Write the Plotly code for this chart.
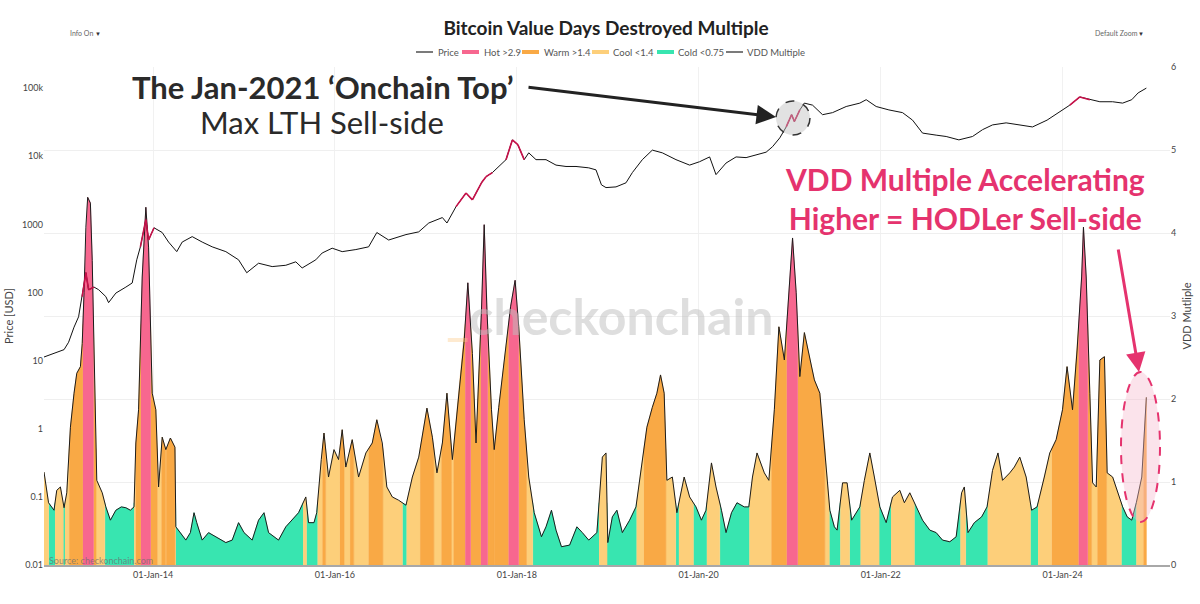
import numpy as np
import pandas as pd
import plotly.graph_objects as go

# ---------------- data ----------------
vdd_year = [2012.80, 2012.85, 2012.91, 2012.94, 2012.98, 2013.02, 2013.05, 2013.09, 2013.13, 2013.16,
            2013.20, 2013.22, 2013.24, 2013.26, 2013.28, 2013.31, 2013.33, 2013.35, 2013.38, 2013.44,
            2013.48, 2013.53, 2013.59, 2013.65, 2013.70, 2013.75, 2013.79, 2013.81, 2013.84, 2013.88,
            2013.92, 2013.95, 2013.99, 2014.03, 2014.06, 2014.10, 2014.14, 2014.19, 2014.24, 2014.25,
            2014.30, 2014.36, 2014.41, 2014.45, 2014.48, 2014.54, 2014.61, 2014.69, 2014.80, 2014.87,
            2014.94, 2015.00, 2015.09, 2015.16, 2015.22, 2015.27, 2015.38, 2015.46, 2015.53, 2015.60,
            2015.68, 2015.71, 2015.77, 2015.80, 2015.85, 2015.88, 2015.93, 2015.99, 2016.04, 2016.08,
            2016.12, 2016.19, 2016.26, 2016.34, 2016.41, 2016.46, 2016.52, 2016.57, 2016.63, 2016.70,
            2016.78, 2016.85, 2016.92, 2017.01, 2017.07, 2017.12, 2017.18, 2017.23, 2017.29, 2017.36,
            2017.42, 2017.46, 2017.51, 2017.55, 2017.61, 2017.64, 2017.67, 2017.72, 2017.75, 2017.80,
            2017.88, 2017.93, 2017.98, 2018.02, 2018.08, 2018.13, 2018.19, 2018.27, 2018.32, 2018.38,
            2018.43, 2018.49, 2018.58, 2018.66, 2018.72, 2018.79, 2018.88, 2018.94, 2018.98, 2019.00,
            2019.05, 2019.10, 2019.16, 2019.24, 2019.31, 2019.38, 2019.43, 2019.49, 2019.54, 2019.58,
            2019.62, 2019.65, 2019.71, 2019.76, 2019.84, 2019.90, 2019.97, 2020.03, 2020.08, 2020.14,
            2020.19, 2020.25, 2020.30, 2020.36, 2020.42, 2020.50, 2020.55, 2020.59, 2020.64, 2020.72,
            2020.77, 2020.83, 2020.88, 2020.94, 2020.99, 2021.03, 2021.07, 2021.11, 2021.16, 2021.22,
            2021.27, 2021.33, 2021.38, 2021.44, 2021.49, 2021.52, 2021.58, 2021.63, 2021.68, 2021.77,
            2021.82, 2021.88, 2021.93, 2021.99, 2022.06, 2022.13, 2022.21, 2022.26, 2022.32, 2022.39,
            2022.46, 2022.54, 2022.61, 2022.68, 2022.76, 2022.83, 2022.89, 2022.92, 2022.96, 2023.03,
            2023.11, 2023.17, 2023.23, 2023.29, 2023.34, 2023.42, 2023.47, 2023.53, 2023.60, 2023.66,
            2023.72, 2023.80, 2023.86, 2023.93, 2024.00, 2024.05, 2024.11, 2024.16, 2024.21, 2024.23,
            2024.26, 2024.30, 2024.33, 2024.37, 2024.41, 2024.46, 2024.49, 2024.55, 2024.60, 2024.66,
            2024.71, 2024.76, 2024.81, 2024.87, 2024.92]

vdd_multiple = [1.12, 0.75, 0.66, 0.90, 0.94, 0.69, 0.87, 1.66, 2.07, 2.31,
                2.39, 2.67, 3.28, 4.07, 4.43, 4.36, 3.67, 2.47, 1.02, 0.87,
                0.70, 0.54, 0.66, 0.70, 0.69, 0.66, 0.70, 1.47, 1.87, 3.47,
                4.31, 3.83, 2.07, 1.87, 0.94, 1.54, 1.39, 1.53, 1.42, 0.46,
                0.39, 0.30, 0.39, 0.63, 0.51, 0.30, 0.39, 0.34, 0.27, 0.30,
                0.51, 0.39, 0.30, 0.54, 0.63, 0.39, 0.30, 0.46, 0.54, 0.63,
                0.82, 0.51, 0.51, 0.63, 1.27, 1.59, 1.06, 1.39, 1.27, 1.63,
                1.18, 1.51, 1.06, 1.35, 1.47, 1.75, 1.47, 0.94, 0.82, 0.78,
                0.72, 1.06, 1.30, 1.89, 1.54, 1.11, 1.47, 2.07, 1.27, 2.07,
                2.71, 3.40, 2.55, 1.47, 3.07, 4.10, 3.07, 1.87, 1.39, 1.90,
                2.63, 3.11, 3.43, 2.87, 1.75, 1.06, 0.63, 0.34, 0.46, 0.66,
                0.42, 0.22, 0.24, 0.46, 0.39, 0.30, 0.39, 1.30, 1.35, 0.27,
                0.58, 0.66, 0.39, 0.54, 0.70, 1.27, 1.66, 1.90, 2.07, 2.29,
                2.07, 1.02, 1.06, 0.63, 1.06, 0.82, 0.70, 0.54, 0.66, 1.23,
                0.94, 0.66, 0.39, 0.63, 0.75, 0.70, 0.70, 1.06, 1.35, 1.11,
                1.02, 1.87, 2.87, 2.47, 3.28, 3.94, 3.28, 2.27, 2.80, 2.47,
                2.23, 2.07, 1.47, 0.66, 0.46, 0.42, 0.99, 0.99, 0.54, 0.70,
                1.02, 1.35, 1.06, 0.70, 0.51, 0.82, 0.90, 0.75, 0.87, 0.70,
                0.54, 0.42, 0.39, 0.30, 0.28, 0.34, 0.87, 0.94, 0.39, 0.51,
                0.58, 0.70, 1.14, 1.35, 1.02, 1.11, 1.18, 1.30, 1.06, 0.66,
                0.70, 1.06, 1.35, 1.51, 1.87, 2.39, 1.87, 2.59, 3.47, 4.07,
                3.47, 2.07, 0.99, 0.94, 2.47, 2.51, 1.11, 1.06, 0.90, 0.70,
                0.58, 0.54, 0.75, 1.06, 2.02]

price_year = [2012.80, 2012.96, 2013.02, 2013.07, 2013.13, 2013.18, 2013.22, 2013.26, 2013.29, 2013.35,
              2013.40, 2013.48, 2013.51, 2013.59, 2013.70, 2013.77, 2013.82, 2013.86, 2013.92, 2013.95,
              2014.01, 2014.10, 2014.17, 2014.26, 2014.32, 2014.43, 2014.54, 2014.65, 2014.80, 2014.94,
              2015.03, 2015.16, 2015.31, 2015.46, 2015.57, 2015.64, 2015.79, 2015.86, 2015.97, 2016.08,
              2016.23, 2016.37, 2016.46, 2016.59, 2016.78, 2016.92, 2017.03, 2017.18, 2017.23, 2017.33,
              2017.44, 2017.51, 2017.61, 2017.66, 2017.73, 2017.80, 2017.88, 2017.95, 2018.01, 2018.08,
              2018.13, 2018.21, 2018.32, 2018.43, 2018.54, 2018.65, 2018.79, 2018.87, 2018.93, 2018.98,
              2019.09, 2019.20, 2019.27, 2019.38, 2019.49, 2019.60, 2019.75, 2019.90, 2020.01, 2020.12,
              2020.19, 2020.30, 2020.41, 2020.52, 2020.63, 2020.74, 2020.81, 2020.89, 2020.96, 2021.02,
              2021.05, 2021.11, 2021.16, 2021.25, 2021.36, 2021.47, 2021.62, 2021.77, 2021.84, 2021.95,
              2022.09, 2022.24, 2022.35, 2022.46, 2022.61, 2022.72, 2022.86, 2023.01, 2023.12, 2023.23,
              2023.38, 2023.53, 2023.67, 2023.83, 2023.97, 2024.08, 2024.19, 2024.30, 2024.41, 2024.55,
              2024.66, 2024.76, 2024.83, 2024.92]

price_usd = [11.3, 13.5, 14.5, 18.6, 31, 44, 87, 195, 110, 120,
             110, 87, 71, 98, 120, 138, 302, 468, 1175, 589,
             891, 759, 550, 398, 550, 661, 550, 468, 398, 302,
             195, 269, 240, 251, 282, 229, 302, 380, 447, 398,
             427, 468, 759, 589, 708, 776, 1047, 1259, 1047, 1820,
             2884, 2291, 4074, 5012, 5754, 7079, 8913, 17378, 14791, 8913,
             11220, 8913, 8913, 7413, 7079, 7079, 6761, 6310, 3802, 3467,
             3548, 4074, 5754, 8913, 12303, 11220, 8913, 7413, 8318, 9772,
             5370, 7943, 9772, 9550, 10471, 11482, 13804, 18621, 26915, 40738,
             32359, 47863, 60256, 56234, 40738, 43652, 53703, 60256, 67608, 53703,
             47863, 43652, 33884, 21878, 20417, 19498, 17378, 19498, 24547, 28840,
             30903, 28840, 26915, 33884, 44668, 56234, 74131, 67608, 63096, 63096,
             60256, 67608, 85114, 100000]

zone_names = ["Cold <0.75", "Cool <1.4", "Warm >1.4", "Hot >2.9"]
zone_thresholds = [0.75, 1.4, 2.9]
price_ticks = [0.01, 0.1, 1, 10, 100, 1000, 10000, 100000]
price_tick_text = ["0.01", "0.1", "1", "10", "100", "1000", "10k", "100k"]
vdd_ticks = [0, 1, 2, 3, 4, 5, 6]
legend_labels = ["Price", "Hot >2.9", "Warm >1.4", "Cool <1.4", "Cold <0.75", "VDD Multiple"]

# ---------------- styling ----------------
zone_colors = ["#38E5B0", "#FDCF7A", "#F9A945", "#F7678F"]
PINK = "#E5336E"
FONT = "Lato"
W, H = 1200, 604
ML, MR, MT, MB = 44, 30, 67, 39
PW, PH = W - ML - MR, H - MT - MB
# manual legend layout (pixel positions of icon start/end and text start)
legend_icon_x = [(416, 433), (462, 479), (522, 539), (592, 609), (657, 674), (726, 743)]
legend_text_x = [436, 482, 542, 611, 676, 745]
legend_colors = ["#222", zone_colors[3], zone_colors[2], zone_colors[1], zone_colors[0], "#222"]
legend_widths = [1.2, 4, 4, 4, 4, 1.2]
LEG_Y = 52


def px(x):
    return (x - ML) / PW


def py(y):
    return (H - MB - y) / PH


def to_date(y):
    if y is None:
        return None
    yr = int(np.floor(y))
    a = pd.Timestamp(yr, 1, 1)
    b = pd.Timestamp(yr + 1, 1, 1)
    return (a + (b - a) * (y - yr)).strftime("%Y-%m-%d %H:%M")


def zone(v):
    return sum(v > t for t in zone_thresholds)


# split VDD curve into zone-coloured polygons at threshold crossings
pts_x, pts_y, seg_z = [vdd_year[0]], [vdd_multiple[0]], []
for i in range(len(vdd_year) - 1):
    xa, ya, xb, yb = vdd_year[i], vdd_multiple[i], vdd_year[i + 1], vdd_multiple[i + 1]
    ts = sorted((t - ya) / (yb - ya) for t in zone_thresholds if (ya - t) * (yb - t) < 0) + [1.0]
    prev = 0.0
    for t in ts:
        mid = ya + (yb - ya) * (prev + t) / 2
        seg_z.append(zone(mid))
        pts_x.append(xa + (xb - xa) * t)
        pts_y.append(ya + (yb - ya) * t)
        prev = t

polys = {k: ([], []) for k in range(4)}
s = 0
for j in range(1, len(seg_z) + 1):
    if j == len(seg_z) or seg_z[j] != seg_z[s]:
        k = seg_z[s]
        xs = pts_x[s:j + 1]
        ys = pts_y[s:j + 1]
        polys[k][0].extend(xs + [xs[-1], xs[0], None])
        polys[k][1].extend(ys + [0, 0, None])
        s = j

fig = go.Figure()

for k in range(4):
    xs, ys = polys[k]
    fig.add_trace(go.Scatter(
        x=[to_date(v) for v in xs], y=ys, mode="lines", fill="toself",
        fillcolor=zone_colors[k], line=dict(color=zone_colors[k], width=0.6),
        hoverinfo="skip", name=zone_names[k], yaxis="y"))

fig.add_trace(go.Scatter(
    x=[to_date(v) for v in vdd_year], y=vdd_multiple, mode="lines",
    line=dict(color="#1c1c1c", width=1), name="VDD Multiple", yaxis="y"))

# price line
fig.add_trace(go.Scatter(
    x=[to_date(v) for v in price_year], y=price_usd, mode="lines",
    line=dict(color="#111111", width=1), name="Price", yaxis="y2"))

# red overlay where VDD multiple is hot
vdd_at_price = np.interp(price_year, vdd_year, vdd_multiple)
hot = vdd_at_price > zone_thresholds[2]
rx, ry = [], []
for i in range(len(price_year) - 1):
    if hot[i] or hot[i + 1]:
        rx += [to_date(price_year[i]), to_date(price_year[i + 1]), None]
        ry += [price_usd[i], price_usd[i + 1], None]
fig.add_trace(go.Scatter(x=rx, y=ry, mode="lines", line=dict(color="#C8104A", width=1.6),
                         name="Price (hot)", hoverinfo="skip", yaxis="y2"))

tick_font = dict(family=FONT, size=9, color="#444")
fig.update_layout(
    template="none",
    width=W, height=H,
    margin=dict(l=ML, r=MR, t=MT, b=MB),
    paper_bgcolor="white", plot_bgcolor="white",
    font=dict(family=FONT, color="#444"),
    showlegend=False,
    title=dict(text="<b>Bitcoin Value Days Destroyed Multiple</b>", x=px(606), xref="paper",
               xanchor="center", y=1 - 28 / H, yref="container", yanchor="middle",
               font=dict(family=FONT, size=19, color="#222")),
    xaxis=dict(type="date", range=[to_date(vdd_year[0]), to_date(2025.18)],
               tick0="2014-01-01", dtick="M24", tickformat="%d-%b-%y",
               showgrid=True, gridcolor="#f1f1f1", gridwidth=1, zeroline=False,
               showline=True, linecolor="#a8a8a8", linewidth=1.5, ticks="",
               tickfont=tick_font),
    yaxis=dict(side="right", range=[0, 6], tickvals=vdd_ticks, showgrid=True,
               gridcolor="#efefef", zeroline=False, showline=False, ticks="",
               tickfont=tick_font,
               title=dict(text="VDD Mutliple", font=dict(family=FONT, size=11, color="#444"),
                          standoff=8)),
    yaxis2=dict(overlaying="y", side="left", type="log", range=[-2, 5.31],
                tickvals=price_ticks, ticktext=price_tick_text, showgrid=False,
                zeroline=False, showline=False, ticks="", tickfont=tick_font,
                title=dict(text="Price [USD]", font=dict(family=FONT, size=11, color="#444"),
                           standoff=6)),
)

annotations = [
    dict(text="<b><span style='color:rgba(252,200,130,0.75)'>_</span>checkonchain</b>",
         x=px(609), y=py(316), font=dict(family=FONT, size=50, color="rgba(190,190,190,0.5)"),
         showarrow=False, xanchor="center", yanchor="middle"),
    dict(text="<b>The Jan-2021 ‘Onchain Top’</b>", x=px(323), y=py(87),
         font=dict(family=FONT, size=31, color="#2a2a2a"), showarrow=False,
         xanchor="center", yanchor="middle"),
    dict(text="Max LTH Sell-side", x=px(322), y=py(122),
         font=dict(family=FONT, size=31, color="#2a2a2a"), showarrow=False,
         xanchor="center", yanchor="middle"),
    dict(text="", x=px(776), y=py(117), ax=527 - 776, ay=87 - 117, axref="pixel", ayref="pixel",
         showarrow=True, arrowhead=2, arrowsize=1.3, arrowwidth=3, arrowcolor="#222"),
    dict(text="<b>VDD Multiple Accelerating<br>Higher = HODLer Sell-side</b>", x=px(965), y=py(199),
         font=dict(family=FONT, size=30, color=PINK), showarrow=False,
         xanchor="center", yanchor="middle", align="center"),
    dict(text="", x=px(1139), y=py(372), ax=1118 - 1139, ay=248 - 372, axref="pixel", ayref="pixel",
         showarrow=True, arrowhead=2, arrowsize=1.3, arrowwidth=3, arrowcolor=PINK),
    dict(text="Source: checkonchain.com", x=px(47), y=py(560), xanchor="left", yanchor="middle",
         font=dict(family=FONT, size=9, color="rgba(110,110,110,0.75)"), showarrow=False),
    dict(text="Info On", x=px(68), y=py(33), xanchor="left", yanchor="middle",
         font=dict(family=FONT, size=7, color="#666"), showarrow=False),
    dict(text="▼", x=px(98), y=py(33), xanchor="center", yanchor="middle",
         font=dict(family=FONT, size=6, color="#333"), showarrow=False),
    dict(text="Default Zoom", x=px(1093), y=py(33), xanchor="left", yanchor="middle",
         font=dict(family=FONT, size=7, color="#666"), showarrow=False),
    dict(text="▼", x=px(1141), y=py(33), xanchor="center", yanchor="middle",
         font=dict(family=FONT, size=6, color="#333"), showarrow=False),
]
for lbl, tx in zip(legend_labels, legend_text_x):
    annotations.append(dict(text=lbl, x=px(tx), y=py(LEG_Y), xanchor="left", yanchor="middle",
                            font=dict(family=FONT, size=9.5, color="#555"), showarrow=False))
for a in annotations:
    a.setdefault("xref", "paper")
    a.setdefault("yref", "paper")
fig.update_layout(annotations=annotations)

for (x0, x1), c, w in zip(legend_icon_x, legend_colors, legend_widths):
    fig.add_shape(type="line", xref="paper", yref="paper", x0=px(x0), x1=px(x1),
                  y0=py(LEG_Y), y1=py(LEG_Y), line=dict(color=c, width=w))

fig.add_shape(type="circle", xref="paper", yref="paper",
              x0=px(776), x1=px(810), y0=py(135), y1=py(101),
              fillcolor="rgba(190,190,190,0.45)", line=dict(color="#333", width=1.5, dash="dash"))
fig.add_shape(type="circle", xref="paper", yref="paper",
              x0=px(1121), x1=px(1160), y0=py(522), y1=py(372),
              fillcolor="rgba(245,185,205,0.4)", line=dict(color=PINK, width=2, dash="dash"))

fig.write_html("out.html")
